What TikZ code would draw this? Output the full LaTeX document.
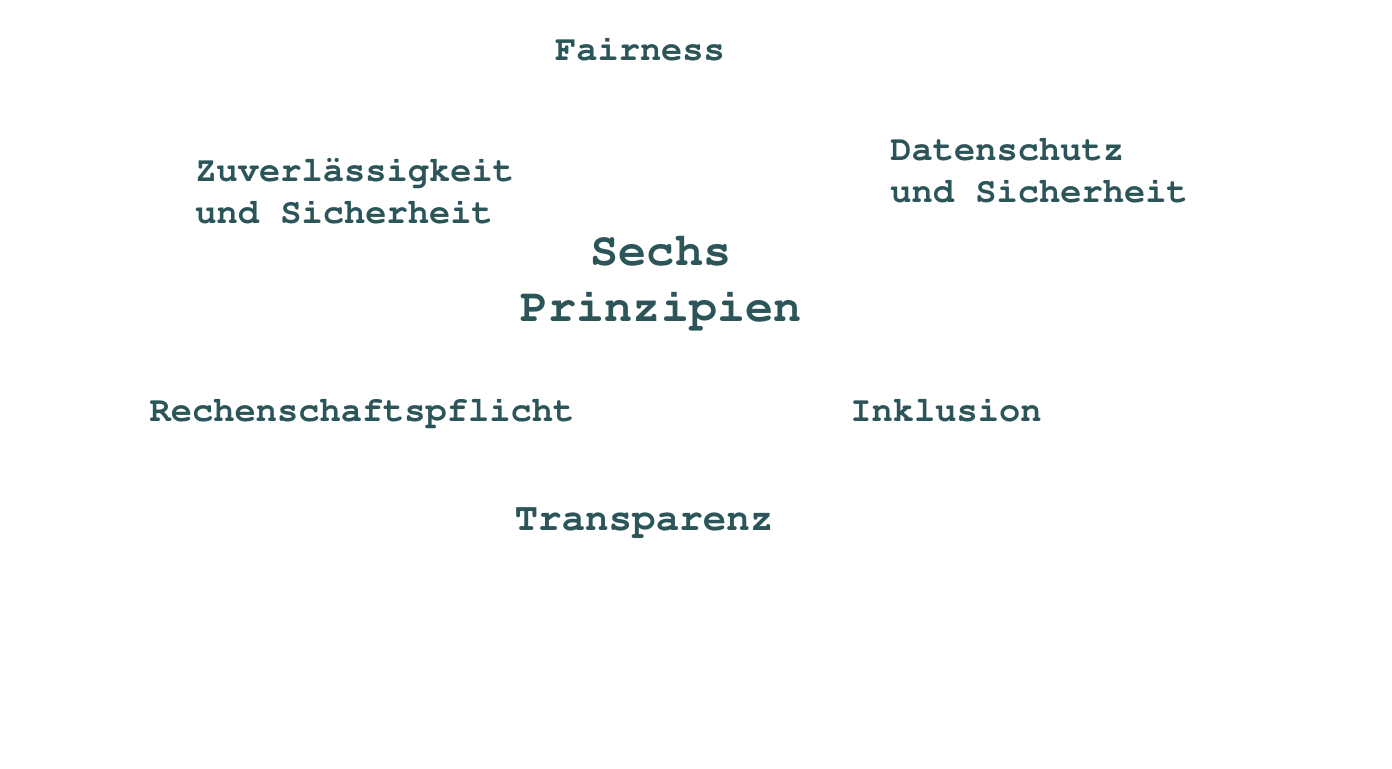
\documentclass[tikz,border=0pt]{standalone}
\usepackage[T1]{fontenc}
\definecolor{tealtext}{HTML}{2C5559}
\newcommand{\courierbold}{\fontfamily{pcr}\fontseries{b}}
\begin{document}
\begin{tikzpicture}[x=0.5pt, y=-0.5pt,
    principle/.style={text=tealtext, inner sep=0pt, align=left, font=\courierbold\fontsize{17.7}{21}\selectfont},
    bigprinciple/.style={principle, font=\courierbold\fontsize{19.6}{23}\selectfont},
    core/.style={text=tealtext, inner sep=0pt, align=center, font=\courierbold\fontsize{23.4}{28}\selectfont}]
\useasboundingbox[fill=white] (0,0) rectangle (1392,768);
\node[principle, anchor=base] (fair) at (640, 60) {Fairness};
\node[principle, anchor=west] (zuv) at (195, 191) {Zuverlässigkeit\\und Sicherheit};
\node[principle, anchor=west] (daten) at (890, 171) {Datenschutz\\und Sicherheit};
\node[core] (mitte) at (661, 282) {Sechs\\Prinzipien};
\node[principle, anchor=base] (rechen) at (362, 421) {Rechenschaftspflicht};
\node[principle, anchor=base] (inkl) at (946, 421) {Inklusion};
\node[bigprinciple, anchor=base] (transp) at (644, 530) {Transparenz};
\end{tikzpicture}
\end{document}
